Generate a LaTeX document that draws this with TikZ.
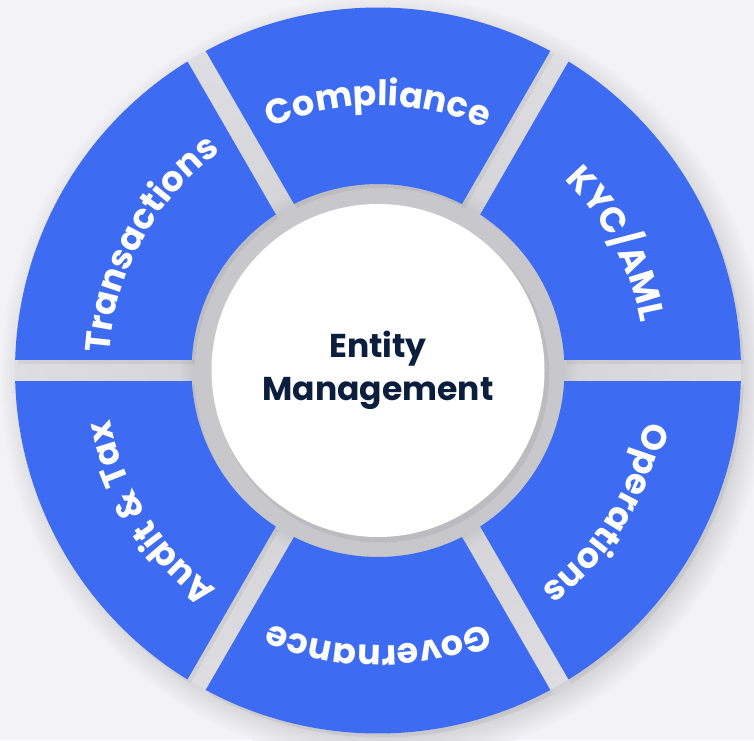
\documentclass[tikz,border=0pt]{standalone}
\usepackage{fontspec}
\setmainfont{Poppins}
\usetikzlibrary{decorations.text}

\definecolor{paper}{HTML}{F2F2F7}
\definecolor{segblue}{HTML}{3D6BF2}
\definecolor{ringgray}{HTML}{C8C8CC}
\definecolor{gapgray}{HTML}{D6D6DA}
\definecolor{rimgray}{HTML}{DEDEE2}
\definecolor{halogray}{HTML}{C2C2C6}
\definecolor{hubtext}{HTML}{0C1E3E}

% 25bp is the rim of the shaded circle
\pgfdeclareradialshading{diskshade}{\pgfpoint{0bp}{0bp}}{color(0bp)=(ringgray); color(12.8bp)=(ringgray); color(13.8bp)=(gapgray); color(25bp)=(rimgray); color(50bp)=(rimgray)}
\pgfdeclareradialshading{haloshade}{\pgfpoint{0bp}{0bp}}{color(0bp)=(halogray); color(22bp)=(halogray); color(25bp)=(paper); color(50bp)=(paper)}

\newcommand{\segfont}{\fontsize{35}{35}\selectfont\bfseries}
% one segment centred at #2 degrees
\newcommand{\ringseg}[2][ringpart]{%
  \fill[#1] (#2+28.34:363) arc[start angle=#2+28.34, end angle=#2-28.34, radius=363]
    -- (#2-26.77:186.5) arc[start angle=#2-26.77, end angle=#2+26.77, radius=186.5] -- cycle;}
% curved label #3 centred at #1 degrees, baseline radius #2
\newcommand{\ringtext}[3]{%
  \path[segtext, decoration={text={|\segfont|#3}}]
    (#1+50:#2) arc[start angle=#1+50, end angle=#1-50, radius=#2];}

\begin{document}
\begin{tikzpicture}[x=1pt, y=1pt,
    ringpart/.style={fill=segblue},
    ringshadow/.style={fill=black, fill opacity=0.05, shift={(3,-4)}},
    segtext/.style={decorate, decoration={text along path, text color=white, text align=center}}]
  \useasboundingbox (-378,-369.5) rectangle (376,370.5);
  \clip (-378,-369.5) rectangle (376,370.5);
  \fill[paper] (-378,-369.5) rectangle (376,370.5);

  % soft shadow and grey bed under the ring
  \shade[shading=haloshade] (6,-8) circle (385);
  \shade[shading=diskshade] (0,0) circle (363);

  % shadows of the segments
  \ringseg[ringshadow]{90}
  \ringseg[ringshadow]{30}
  \ringseg[ringshadow]{-30}
  \ringseg[ringshadow]{-90}
  \ringseg[ringshadow]{-150}
  \ringseg[ringshadow]{150}

  \ringseg{90}
  \ringseg{30}
  \ringseg{-30}
  \ringseg{-90}
  \ringseg{-150}
  \ringseg{150}

  \fill[black, fill opacity=0.06] (3,-4) circle (168);
  \fill[white] (0,0) circle (166.5);
  \node[font=\fontsize{33}{43}\selectfont\bfseries, text=hubtext, align=center] (hub) at (0,0) {Entity\\Management};

  \ringtext{90}{265}{Compliance}
  \ringtext{28}{267}{KYC/AML}
  \ringtext{-32}{272}{Operations}
  \ringtext{-90}{275}{Governance}
  \ringtext{-148}{272}{Audit {\&} Tax}
  \ringtext{151}{269}{Transactions}
\end{tikzpicture}
\end{document}
